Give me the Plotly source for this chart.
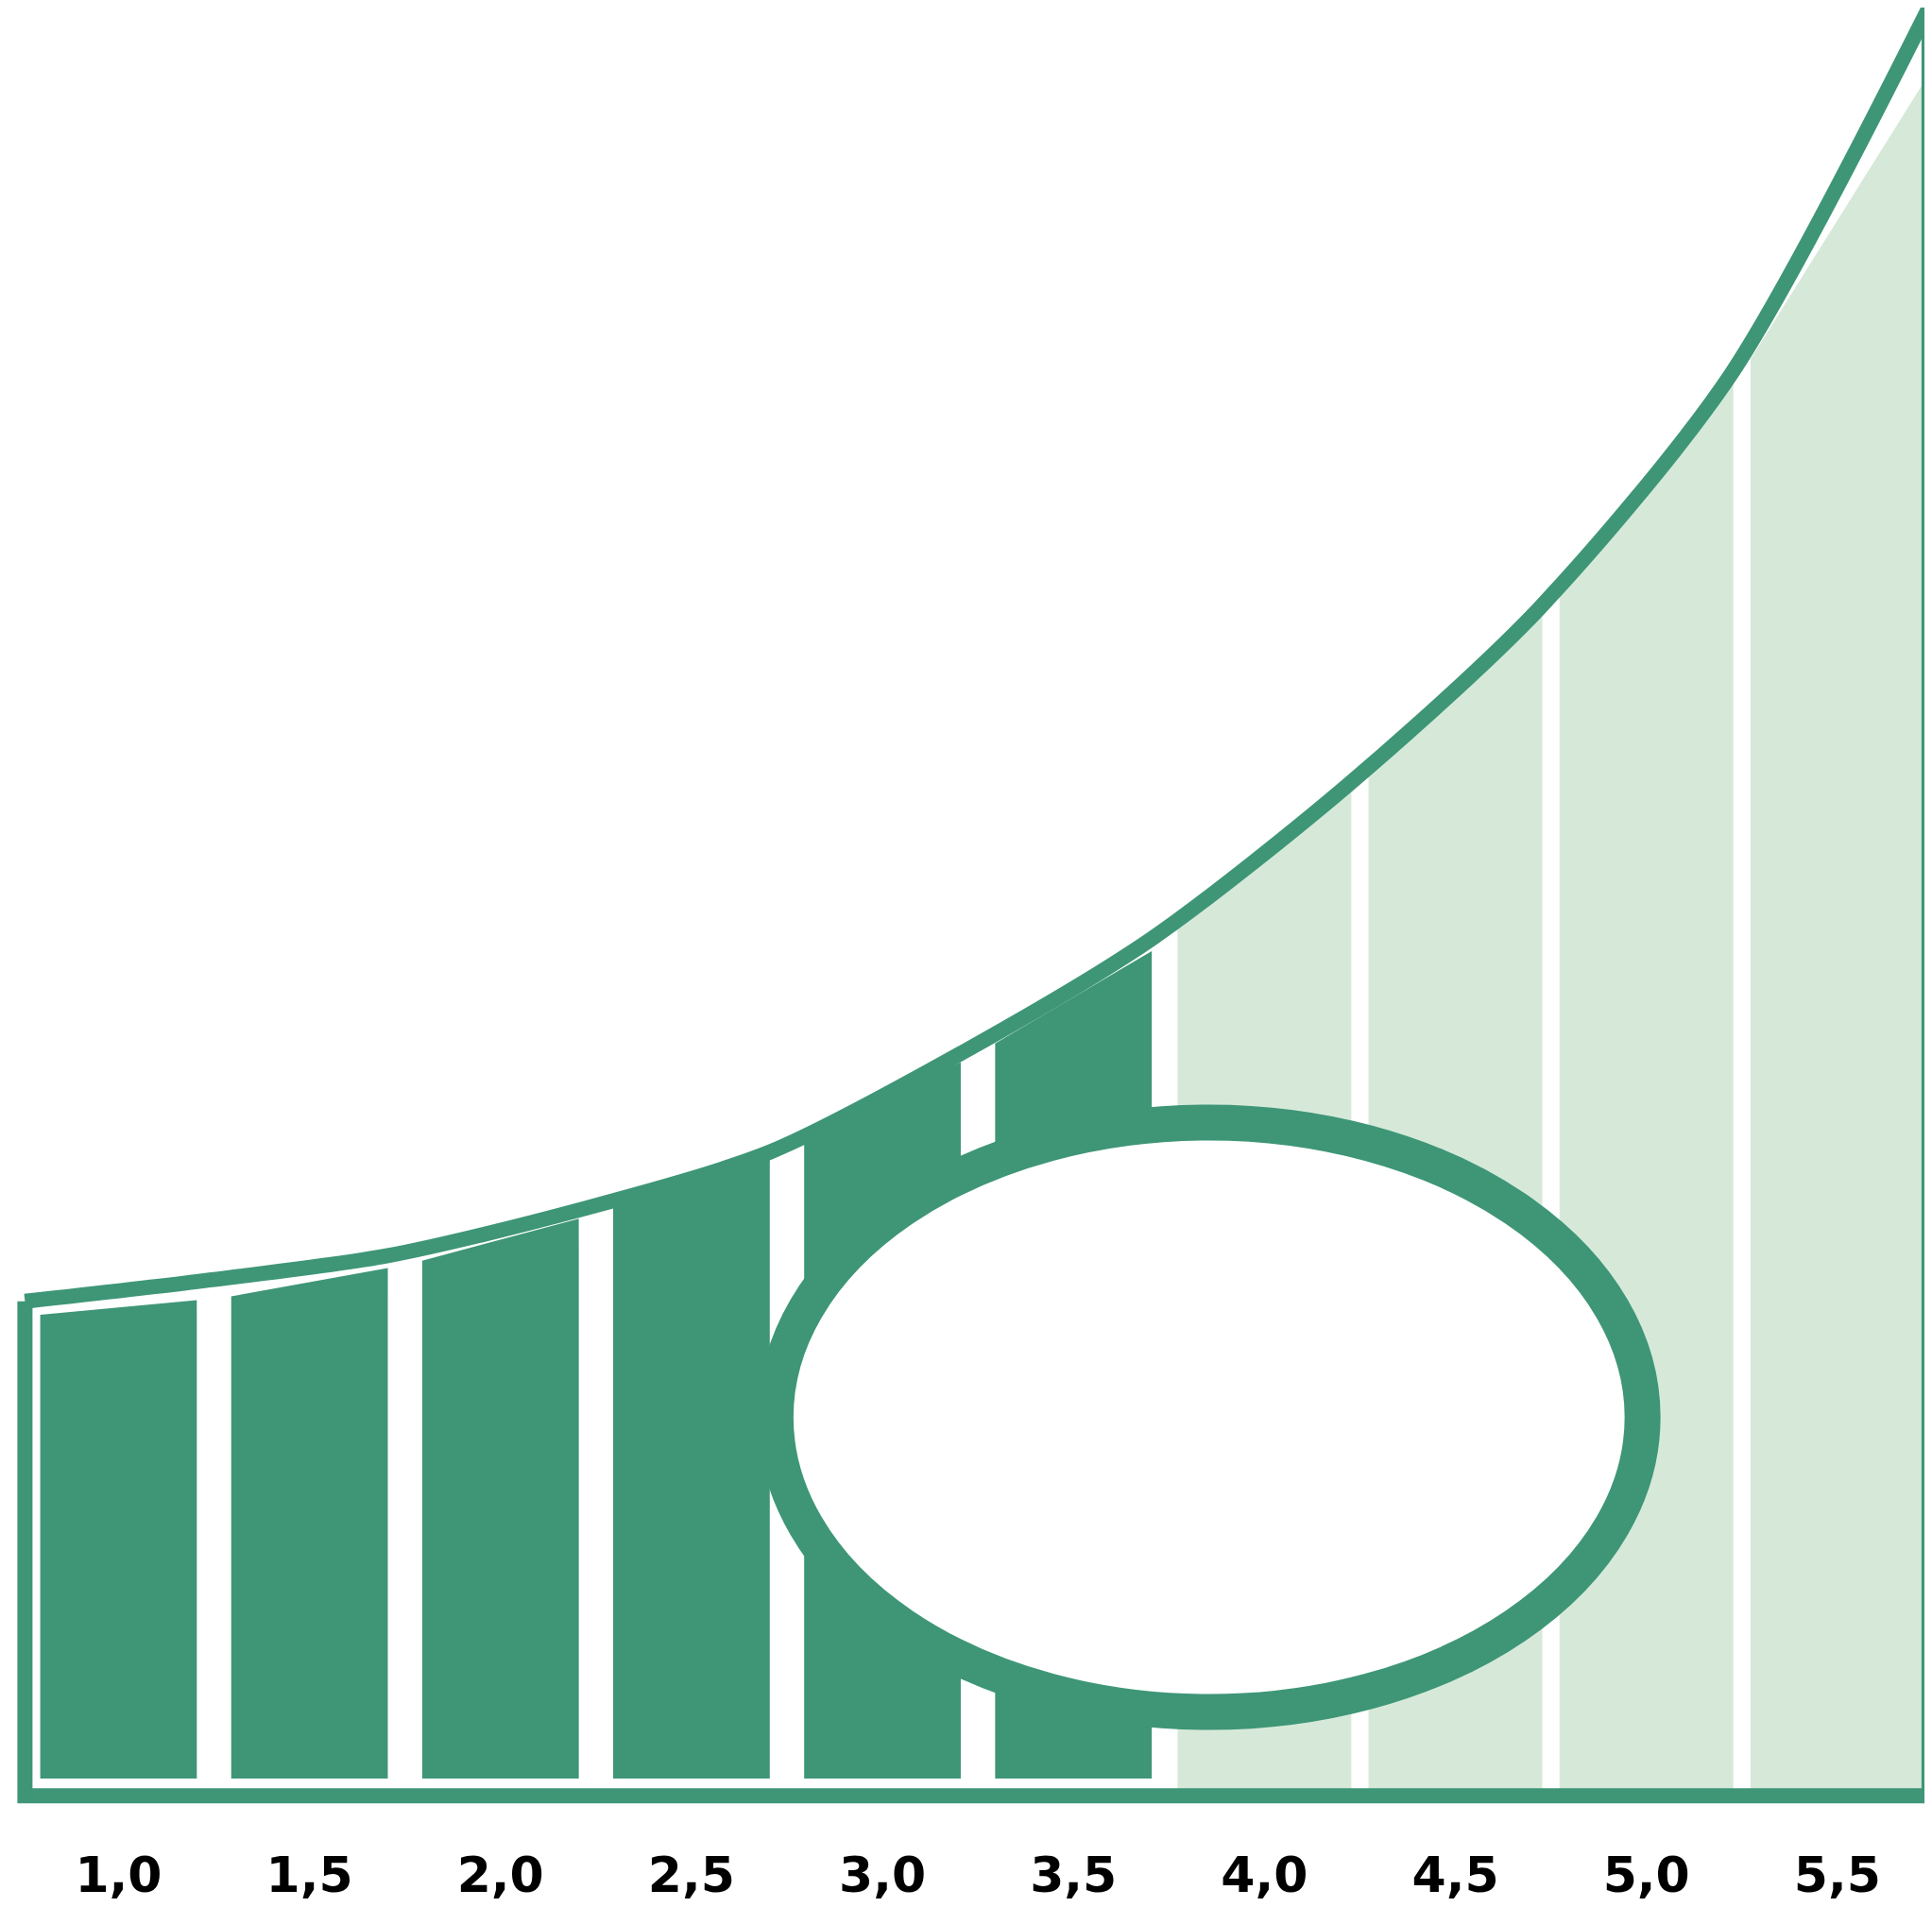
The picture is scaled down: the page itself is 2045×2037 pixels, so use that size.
import plotly.graph_objects as go

labels = ["1,0", "1,5", "2,0", "2,5", "3,0", "3,5", "4,0", "4,5", "5,0", "5,5"]
# bar top heights at left and right edge (baseline = 0)
top_left = [390, 405, 434, 478, 535, 610, 705, 830, 972, 1165]
top_right = [402, 428, 468, 523, 595, 685, 820, 960, 1155, 1390]
dark = [True] * 6 + [False] * 4

# outline curve (x in bar-position units, height)
curve_x = [-0.49, 0.41, 1.41, 2.41, 3.41, 4.41, 5.41, 6.44, 7.44, 8.44, 9.48]
curve_y = [401, 417, 438, 475, 522, 602, 695, 820, 963, 1152, 1450]

DARK = "#3e9677"
LIGHT = "#d6e9d9"

fig = go.Figure()

for i, (tl, tr, d) in enumerate(zip(top_left, top_right, dark)):
    w = 0.82 if d else 0.91
    b = 14 if d else 0
    fig.add_trace(go.Scatter(
        x=[i - w / 2, i - w / 2, i + w / 2, i + w / 2],
        y=[b, tl, tr, b], fill="toself", mode="none",
        fillcolor=DARK if d else LIGHT, hoverinfo="skip"))

# smooth top curve
fig.add_trace(go.Scatter(x=curve_x, y=curve_y, mode="lines",
                         line=dict(color=DARK, width=16, shape="spline", smoothing=0.8),
                         hoverinfo="skip"))
# sides and bottom
fig.add_trace(go.Scatter(x=[curve_x[0], curve_x[0], curve_x[-1], curve_x[-1]],
                         y=[curve_y[0], 0, 0, curve_y[-1]], mode="lines",
                         line=dict(color=DARK, width=16), hoverinfo="skip"))

fig.add_trace(go.Scatter(x=list(range(10)), y=[-68] * 10, mode="text", text=labels,
                         textfont=dict(family="DejaVu Sans", size=52, color="black", weight="bold"),
                         hoverinfo="skip"))

fig.add_shape(type="circle", x0=3.44, x1=7.98, y0=68, y1=546,
              line=dict(color=DARK, width=38), fillcolor="white", layer="above")

fig.update_layout(
    width=2045, height=2037, margin=dict(l=0, r=0, t=0, b=0),
    plot_bgcolor="white", paper_bgcolor="white", showlegend=False,
    xaxis=dict(range=[-0.581, 9.535], visible=False),
    yaxis=dict(range=[-110, 1450], visible=False),
)
fig.write_html("out.html")
